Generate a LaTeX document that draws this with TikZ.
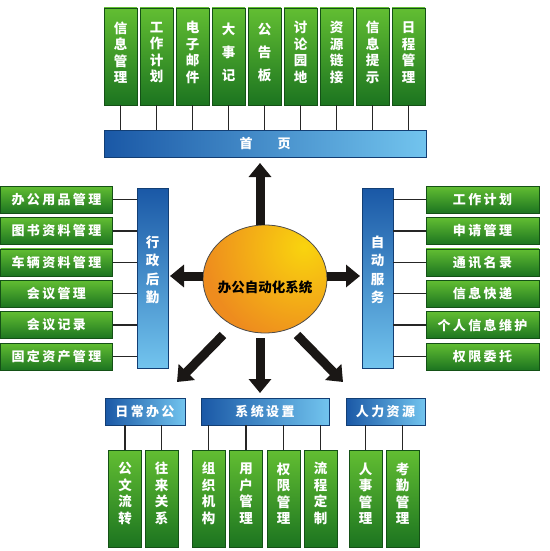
\documentclass[tikz,border=0pt]{standalone}
\usepackage{fontspec}
\newfontfamily\cjk{Noto Sans CJK SC}
\newfontfamily\cjks{Noto Sans CJK SC}[LetterSpace=18]
\usetikzlibrary{arrows.meta,shapes.geometric}
\definecolor{gl}{HTML}{62BE32}
\definecolor{gd}{HTML}{1C7420}
\definecolor{bd}{HTML}{1A58A6}
\definecolor{bl}{HTML}{72C4EE}
\definecolor{oo}{HTML}{EE8C1E}
\definecolor{oy}{HTML}{F9D40E}
\definecolor{ak}{HTML}{1A1715}
\newcommand\gcol[5]{%
  \node[gbox] (#1) at (#2,#3) {};
  \node[vtext] (#1t) at ([yshift=#4]#1.center) {#5};}
\begin{document}
\begin{tikzpicture}[x=1pt,y=-1pt,
  gbox/.style={draw=gd!70!black, line width=0.6pt, top color=gl, bottom color=gd,
    minimum width=33pt, minimum height=97pt, inner sep=0pt},
  vtext/.style={align=center, text=white, inner sep=0pt,
    font=\cjk\bfseries\fontsize{13.5}{16.5}\selectfont},
  hbox/.style={draw=gd!70!black, line width=0.6pt, top color=gl, bottom color=gd,
    minimum width=112pt, minimum height=27pt, inner sep=0pt, text=white,
    font=\cjks\bfseries\fontsize{13}{15}\selectfont},
  hbar/.style={draw=bd!70!black, line width=0.5pt, left color=bd, right color=bl,
    minimum height=27pt, inner sep=0pt, text=white,
    font=\cjks\bfseries\fontsize{13}{15}\selectfont},
  vbar/.style={draw=bd!70!black, line width=0.5pt, top color=bd, bottom color=bl,
    minimum width=31pt, minimum height=180pt, inner sep=0pt},
  conn/.style={draw=black!85, line width=1.3pt},
  bigarr/.style={draw=ak, line width=9pt, -{Triangle[width=22pt,length=14pt]}}
]
\useasboundingbox (0,0) rectangle (549,551);
% ---- top boxes
\gcol{t1}{120.5}{56.5}{4pt}{信\\息\\管\\理}
\gcol{t2}{156.5}{56.5}{4pt}{工\\作\\计\\划}
\gcol{t3}{192.5}{56.5}{4pt}{电\\子\\邮\\件}
\gcol{t4}{228.5}{56.5}{4pt}{大\\[6.5pt]事\\[6.5pt]记}
\gcol{t5}{264.5}{56.5}{4pt}{公\\[6.5pt]告\\[6.5pt]板}
\gcol{t6}{300.5}{56.5}{4pt}{讨\\论\\园\\地}
\gcol{t7}{336.5}{56.5}{4pt}{资\\源\\链\\接}
\gcol{t8}{372.5}{56.5}{4pt}{信\\息\\提\\示}
\gcol{t9}{408.5}{56.5}{4pt}{日\\程\\管\\理}
\node[hbar, minimum width=322pt] (home) at (265,144) {首\hspace{25pt}页\hspace{6pt}};
\foreach \i in {1,...,9} \draw[conn] (t\i.south) -- (t\i.south |- home.north);
% ---- left side
\node[vbar] (adm) at (152.5,278) {};
\node[vtext, font=\cjk\bfseries\fontsize{13.5}{18.5}\selectfont] (admt) at (152.5,270) {行\\政\\后\\勤};
\node[hbox] (l1) at (56.5,199.5) {办公用品管理};
\node[hbox] (l2) at (56.5,230.9) {图书资料管理};
\node[hbox] (l3) at (56.5,262.3) {车辆资料管理};
\node[hbox] (l4) at (56.5,293.7) {会议管理};
\node[hbox] (l5) at (56.5,325.1) {会议记录};
\node[hbox] (l6) at (56.5,356.5) {固定资产管理};
\foreach \i in {1,...,6} \draw[conn] (l\i.east) -- (l\i.east -| adm.west);
% ---- right side
\node[vbar] (svc) at (377.5,278) {};
\node[vtext, font=\cjk\bfseries\fontsize{13.5}{18.5}\selectfont] (svct) at (377.5,270) {自\\动\\服\\务};
\node[hbox, minimum width=113pt] (r1) at (482.5,199.5) {工作计划};
\node[hbox, minimum width=113pt] (r2) at (482.5,230.9) {申请管理};
\node[hbox, minimum width=113pt] (r3) at (482.5,262.3) {通讯名录};
\node[hbox, minimum width=113pt] (r4) at (482.5,293.7) {信息快递};
\node[hbox, minimum width=113pt] (r5) at (482.5,325.1) {个人信息维护};
\node[hbox, minimum width=113pt] (r6) at (482.5,356.5) {权限委托};
\foreach \i in {1,...,6} \draw[conn] (r\i.west) -- (r\i.west -| svc.east);
% ---- bottom
\node[hbar, minimum width=80pt] (d1) at (145,411.5) {日常办公};
\node[hbar, minimum width=128pt] (d2) at (265,411.5) {系统设置};
\node[hbar, minimum width=79pt] (d3) at (385.5,411.5) {人力资源};
\gcol{b1}{125}{498.5}{5pt}{公\\文\\流\\转}
\gcol{b2}{161.5}{498.5}{5pt}{往\\来\\关\\系}
\gcol{b3}{208.5}{498.5}{5pt}{组\\织\\机\\构}
\gcol{b4}{246}{498.5}{5pt}{用\\户\\管\\理}
\gcol{b5}{283.5}{498.5}{5pt}{权\\限\\管\\理}
\gcol{b6}{320.5}{498.5}{5pt}{流\\程\\定\\制}
\gcol{b7}{365.5}{498.5}{5pt}{人\\事\\管\\理}
\gcol{b8}{402.5}{498.5}{5pt}{考\\勤\\管\\理}
\foreach \i in {1,2} \draw[conn] (b\i.north) -- (b\i.north |- d1.south);
\foreach \i in {3,...,6} \draw[conn] (b\i.north) -- (b\i.north |- d2.south);
\foreach \i in {7,8} \draw[conn] (b\i.north) -- (b\i.north |- d3.south);
% ---- centre
\node[ellipse, minimum width=124pt, minimum height=108pt, inner sep=0pt,
  draw=black!70, line width=0.8pt, fill=oo,
  path picture={\shade[inner color=oy, outer color=oo]
     ([xshift=-22pt,yshift=-22pt]path picture bounding box.north east) circle[radius=100pt];}] (c) at (265,279) {};
\node[font=\cjk\bfseries\fontsize{13.5}{15}\selectfont, text=black, inner sep=0pt] (ct) at (265,287) {办公自动化系统};
\coordinate (au) at (260,163);
\coordinate (al) at (170,276);
\coordinate (ar) at (360,276);
\coordinate (ad) at (260,393);
\coordinate (sdl) at (223,335);
\coordinate (adl) at (177,382);
\coordinate (sdr) at (297,335);
\coordinate (adr) at (343,382);
\draw[bigarr] (c.north -| au) -- (au);
\draw[bigarr] (c.west |- al) -- (al);
\draw[bigarr] (c.east |- ar) -- (ar);
\draw[bigarr, shorten <=5pt] (c.south -| ad) -- (ad);
\draw[bigarr] (sdl) -- (adl);
\draw[bigarr] (sdr) -- (adr);
\end{tikzpicture}
\end{document}
